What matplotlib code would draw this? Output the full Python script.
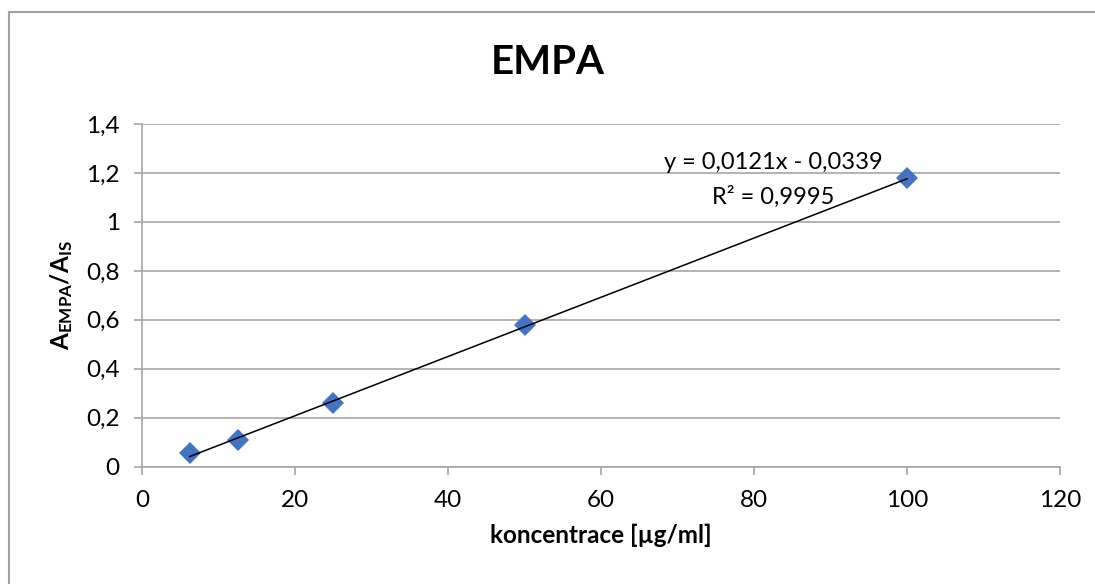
import matplotlib
matplotlib.use("Agg")
import matplotlib.pyplot as plt
from matplotlib.lines import Line2D

plt.rcParams['font.family'] = ['Lato', 'DejaVu Sans']

# calibration data
conc = [6.25, 12.5, 25, 50, 100]
ratio = [0.055, 0.11, 0.26, 0.58, 1.18]

# linear fit as reported
slope = 0.0121
intercept = -0.0339
r2 = 0.9995

x_ticks = [0, 20, 40, 60, 80, 100, 120]
y_ticks = [0, 0.2, 0.4, 0.6, 0.8, 1.0, 1.2, 1.4]
y_labels = ['0', '0,2', '0,4', '0,6', '0,8', '1', '1,2', '1,4']

grey = '#a6a6a6'

fig = plt.figure(figsize=(10.95, 5.84), dpi=100)
ax = fig.add_axes([0.1297, 0.2009, 0.8384, 0.5868])

# chart frame (top and left edges, the rest runs off the canvas)
fig.lines.append(Line2D([8.5, 1100], [584 - 11.5, 584 - 11.5], transform=None,
                        color='#a0a0a0', linewidth=1.5))
fig.lines.append(Line2D([8.5, 8.5], [-5, 584 - 11.5], transform=None,
                        color='#a0a0a0', linewidth=1.5))

ax.plot(conc, ratio, linestyle='none', marker='D', markersize=11,
        color='#4472c4', markeredgewidth=0, zorder=3)

fit_x = [conc[0], conc[-1]]
fit_y = [slope * v + intercept for v in fit_x]
ax.plot(fit_x, fit_y, color='black', linewidth=1.1, zorder=4)

ax.set_xlim(0, 120)
ax.set_ylim(0, 1.4)
ax.set_xticks(x_ticks)
ax.set_xticklabels([str(v) for v in x_ticks])
ax.set_yticks(y_ticks)
ax.set_yticklabels(y_labels)

ax.yaxis.grid(True, color=grey, linewidth=1.2)
ax.set_axisbelow(True)
for side in ['top', 'right']:
    ax.spines[side].set_visible(False)
for side in ['left', 'bottom']:
    ax.spines[side].set_color(grey)
    ax.spines[side].set_linewidth(1.2)
ax.tick_params(axis='both', direction='out', length=6, width=1.2, color=grey,
               labelsize=17.5, labelcolor='black')
ax.tick_params(axis='y', pad=10)
ax.tick_params(axis='x', pad=11)

ax.set_xlabel('koncentrace [µg/ml]', fontsize=17.5, fontweight='bold', labelpad=9)
ax.set_ylabel(r'$\mathdefault{A_{EMPA}/A_{IS}}$', fontsize=17.5, fontweight='bold', labelpad=8)
fig.text(0.5, 0.893, 'EMPA', ha='center', va='center', fontsize=29, fontweight='bold')

eq = 'y = {:.4f}x - {:.4f}'.format(slope, -intercept).replace('.', ',')
ax.text(82.5, 1.241, eq, ha='center', va='center', fontsize=17)
ax.text(82.5, 1.101, 'R² = {:.4f}'.format(r2).replace('.', ','), ha='center', va='center', fontsize=17)

fig.savefig('out.png', dpi=100)
